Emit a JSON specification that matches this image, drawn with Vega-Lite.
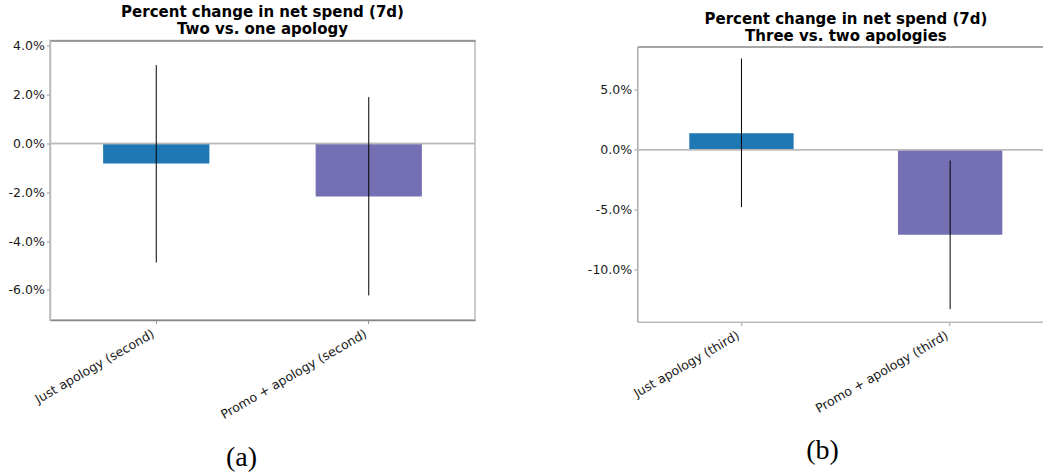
{
  "$schema": "https://vega.github.io/schema/vega-lite/v6.json",
  "background": "white",
  "padding": {"left": 7, "top": 3.5, "right": 0, "bottom": 0},
  "bounds": "flush",
  "spacing": 162.3,
  "config": {
    "font": "DejaVu Sans",
    "axis": {"labelFont": "DejaVu Sans", "labelFontSize": 12.5, "labelColor": "#1a1a1a", "grid": false, "tickColor": "#999", "tickSize": 3.5, "labelPadding": 2.2, "domainWidth": 1.5},
    "title": {"font": "DejaVu Sans", "fontSize": 15, "fontWeight": "bold", "color": "#000", "lineHeight": 17, "anchor": "middle"}
  },
  "datasets": {
    "a": [
      {"cat": "Just apology (second)", "kind": "Just", "value": -0.82, "lo": -4.88, "hi": 3.21},
      {"cat": "Promo + apology (second)", "kind": "Promo", "value": -2.17, "lo": -6.23, "hi": 1.90}
    ],
    "b": [
      {"cat": "Just apology (third)", "kind": "Just", "value": 1.39, "lo": -4.78, "hi": 7.61},
      {"cat": "Promo + apology (third)", "kind": "Promo", "value": -7.08, "lo": -13.28, "hi": -0.89}
    ]
  },
  "hconcat": [
    {
      "width": 425,
      "height": 279.6,
      "view": {"stroke": "#bbb", "strokeWidth": 1.5},
      "title": {"text": ["Percent change in net spend (7d)", "Two vs. one apology"], "offset": 3},
      "data": {"name": "a"},
      "layer": [
        {
          "mark": {"type": "bar"},
          "encoding": {
            "x": {"field": "cat", "type": "nominal", "sort": null,
              "scale": {"paddingInner": 0.5, "paddingOuter": 0.25},
              "axis": {"orient": "bottom", "labelAngle": -30, "labelAlign": "right", "labelBaseline": "top", "labelOffset": -6, "labelPadding": 3.5, "domainColor": "#888",
                "title": "(a)", "titleFont": "Liberation Serif", "titleFontSize": 28, "titleFontWeight": "normal", "titleColor": "#000", "titleX": 191, "titleY": 137, "titleBaseline": "middle", "titleAlign": "center", "titleAngle": 0}},
            "y": {"field": "value", "type": "quantitative", "title": null,
              "scale": {"domain": [-7.24, 4.22], "nice": false, "zero": false},
              "axis": {"values": [-6, -4, -2, 0, 2, 4], "labelExpr": "replace(format(datum.value, '.1f'), '\u2212', '-') + '%'", "domainColor": "#bbb", "title": null}},
            "color": {"field": "kind", "type": "nominal", "scale": {"domain": ["Just", "Promo"], "range": ["#1f77b4", "#7570b3"]}, "legend": null}
          }
        },
        {
          "mark": {"type": "rule", "color": "#bbb", "strokeWidth": 1.5},
          "encoding": {"y": {"datum": 0, "type": "quantitative", "title": null}}
        },
        {
          "mark": {"type": "rule", "color": "#000", "strokeWidth": 1},
          "encoding": {
            "x": {"field": "cat", "type": "nominal", "sort": null, "axis": {"orient": "top", "labels": false, "ticks": false, "domainColor": "#888", "title": null}},
            "y": {"field": "lo", "type": "quantitative", "title": null},
            "y2": {"field": "hi"}
          }
        }
      ],
      "resolve": {"axis": {"x": "independent"}}
    },
    {
      "width": 406.7,
      "height": 281.3,
      "view": {"stroke": null},
      "title": {"text": ["Percent change in net spend (7d)", "Three vs. two apologies"], "offset": -3, "dx": 5.3},
      "data": {"name": "b"},
      "layer": [
        {
          "mark": {"type": "bar"},
          "encoding": {
            "x": {"field": "cat", "type": "nominal", "sort": null,
              "scale": {"paddingInner": 0.5, "paddingOuter": 0.2244, "align": 0.555},
              "axis": {"orient": "bottom", "labelAngle": -30, "labelAlign": "right", "labelBaseline": "top", "labelOffset": -6, "labelPadding": 3.5, "domainColor": "#bbb",
                "title": "(b)", "titleFont": "Liberation Serif", "titleFontSize": 28, "titleFontWeight": "normal", "titleColor": "#000", "titleX": 184.7, "titleY": 129, "titleBaseline": "middle", "titleAlign": "center", "titleAngle": 0}},
            "y": {"field": "value", "type": "quantitative", "title": null,
              "scale": {"domain": [-14.33, 8.61], "range": [281.3, 6], "nice": false, "zero": false},
              "axis": {"values": [-10, -5, 0, 5], "labelExpr": "replace(format(datum.value, '.1f'), '\u2212', '-') + '%'", "domainColor": "#aaa", "title": null}},
            "color": {"field": "kind", "type": "nominal", "scale": {"domain": ["Just", "Promo"], "range": ["#1f77b4", "#7570b3"]}, "legend": null}
          }
        },
        {
          "mark": {"type": "rule", "color": "#bbb", "strokeWidth": 1.5},
          "encoding": {"y": {"datum": 0, "type": "quantitative", "title": null}}
        },
        {
          "mark": {"type": "rule", "color": "#000", "strokeWidth": 1},
          "encoding": {
            "x": {"field": "cat", "type": "nominal", "sort": null, "axis": {"orient": "top", "offset": -6, "labels": false, "ticks": false, "domainColor": "#888", "title": null}},
            "y": {"field": "lo", "type": "quantitative", "title": null},
            "y2": {"field": "hi"}
          }
        }
      ],
      "resolve": {"axis": {"x": "independent"}}
    }
  ]
}
